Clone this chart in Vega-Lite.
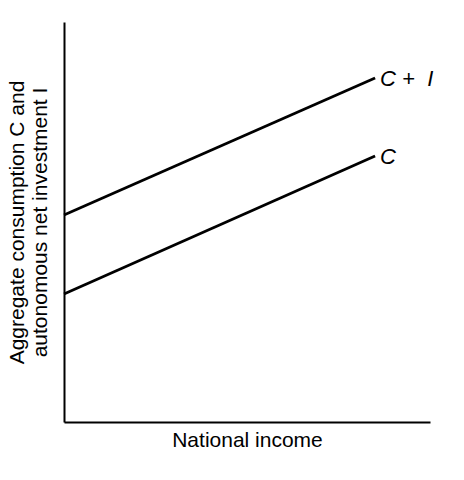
{
  "$schema": "https://vega.github.io/schema/vega-lite/v6.json",
  "width": 366,
  "height": 400,
  "autosize": {"type": "none"},
  "padding": {"left": 64, "top": 22, "right": 34, "bottom": 58},
  "background": "white",
  "config": {
    "view": {"stroke": null},
    "font": "Liberation Sans",
    "axis": {"grid": false, "ticks": false, "labels": false, "domainColor": "black", "domainWidth": 2, "titleColor": "black", "titleFont": "Liberation Sans", "titleFontWeight": "normal", "titleFontSize": 21}
  },
  "datasets": {
    "lines": [
      {"series": "C + I", "income": 0, "value": 51.75},
      {"series": "C + I", "income": 85, "value": 86},
      {"series": "C", "income": 0, "value": 32},
      {"series": "C", "income": 85, "value": 66.5}
    ],
    "labels": [
      {"label": "C\u00a0+\u00a0\u00a0I", "income": 85, "value": 86},
      {"label": "C", "income": 85, "value": 66.5}
    ]
  },
  "layer": [
    {
      "data": {"name": "lines"},
      "mark": {"type": "line", "color": "black", "strokeWidth": 2.8},
      "encoding": {
        "x": {"field": "income", "type": "quantitative", "scale": {"domain": [0, 100], "nice": false}, "axis": {"title": "National income", "titlePadding": 7}},
        "y": {"field": "value", "type": "quantitative", "scale": {"domain": [0, 100], "nice": false}, "axis": {"title": ["Aggregate consumption C and", "autonomous net investment I"], "titlePadding": 14, "titleLineHeight": 23}},
        "detail": {"field": "series"}
      }
    },
    {
      "data": {"name": "labels"},
      "mark": {"type": "text", "align": "left", "baseline": "middle", "dx": 5, "dy": 1, "fontSize": 22, "fontStyle": "italic", "color": "black", "font": "Liberation Sans"},
      "encoding": {
        "x": {"field": "income", "type": "quantitative"},
        "y": {"field": "value", "type": "quantitative"},
        "text": {"field": "label"}
      }
    }
  ]
}
